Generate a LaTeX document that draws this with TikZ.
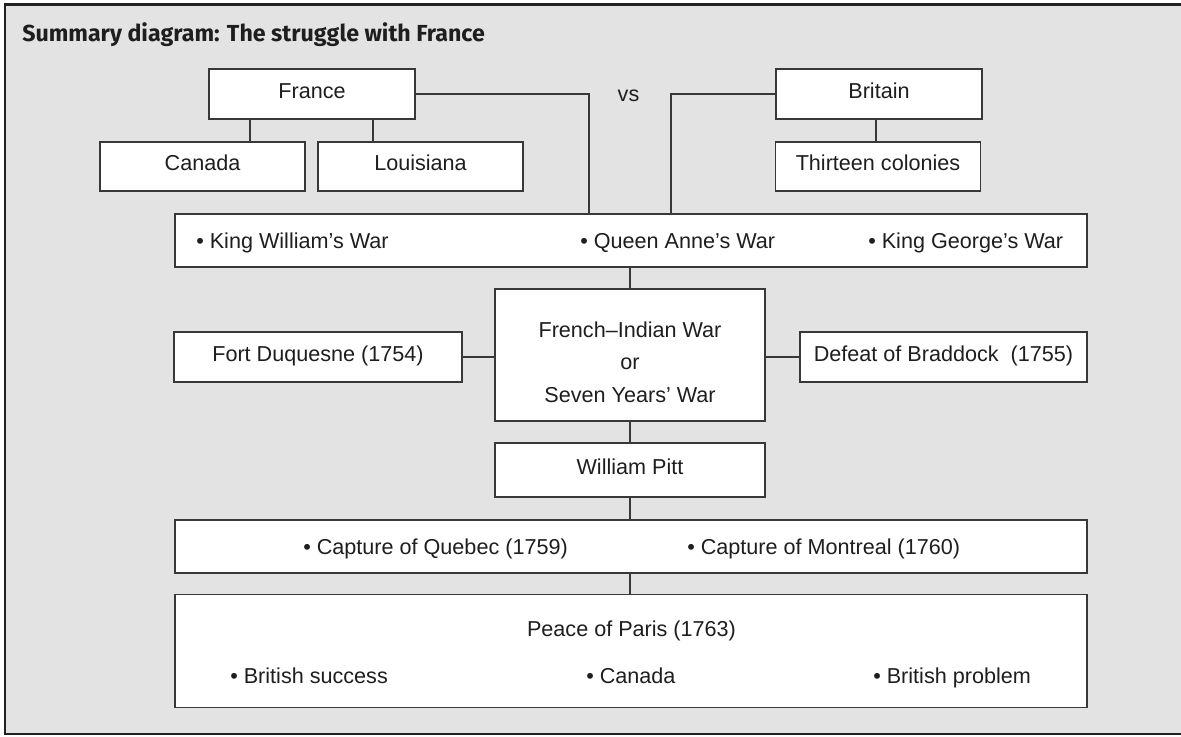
\documentclass[tikz,border=0pt]{standalone}
\usepackage{fontspec}
\setmainfont{Liberation Sans}
\newfontfamily\titlefont{Fira Sans}
\definecolor{bg}{HTML}{E3E3E3}
\definecolor{linec}{HTML}{383838}
\definecolor{framec}{HTML}{222222}
\definecolor{txt}{HTML}{1E1E1E}
\begin{document}
\begin{tikzpicture}[x=0.75pt,y=-0.75pt,
  bodyfont/.style={font=\fontsize{16.2}{19}\selectfont},
  box/.style={draw=linec, line width=1.2pt, fill=white, inner sep=0pt, text=txt,
    bodyfont, text height=0.8em, text depth=0.15em},
  item/.style={anchor=base west, inner sep=0pt, text=txt, bodyfont},
  conn/.style={draw=linec, line width=0.9pt},
  frame/.style={draw=framec, line width=2.2pt}]
\useasboundingbox (0,0) rectangle (1181,736);
\fill[bg] (4,4) rectangle (1181,734);
\draw[frame] (1182,4.5) -- (5,4.5) -- (5,734) -- (1182,734);
\node[anchor=base west, inner sep=0pt, text=txt, font=\titlefont\bfseries\fontsize{17.4}{20}\selectfont] (title) at (22,41) {Summary diagram: The struggle with France};

% top row
\node[box, minimum width=206*0.75pt, minimum height=50*0.75pt] (france) at (312,94) {France};
\node[box, minimum width=206*0.75pt, minimum height=50*0.75pt] (britain) at (879,94) {Britain};
\node[anchor=base, inner sep=0pt, text=txt, bodyfont] (vs) at (628.5,101) {vs};
\node[box, minimum width=205*0.75pt, minimum height=49*0.75pt] (canada) at (202.5,166.5) {Canada};
\node[box, minimum width=205*0.75pt, minimum height=49*0.75pt] (louis) at (420.5,166.5) {Louisiana};
\node[box, minimum width=205*0.75pt, minimum height=49*0.75pt] (thirteen) at (878,166.5) {Thirteen colonies};

% wars
\node[box, minimum width=912*0.75pt, minimum height=53*0.75pt] (wars) at (631,240.5) {};
\node[item] (kw) at (196,248) {• King William’s War};
\node[item] (qa) at (580,248) {• Queen Anne’s War};
\node[item] (kg) at (868,248) {• King George’s War};

% French-Indian war row
\node[box, minimum width=270*0.75pt, minimum height=132*0.75pt] (fiw) at (630,355) {};
\node[inner sep=0pt, align=center, text=txt, font=\fontsize{16.2}{24.4}\selectfont] (fiwtext) at (630,362) {French–Indian War\\or\\Seven Years’ War};
\node[box, minimum width=288*0.75pt, minimum height=50*0.75pt] (fort) at (318,357) {Fort Duquesne (1754)};
\node[box, minimum width=287*0.75pt, minimum height=50*0.75pt] (defeat) at (943.5,357) {Defeat of Braddock\ \ (1755)};

\node[box, minimum width=270*0.75pt, minimum height=54*0.75pt] (pitt) at (630,470) {William Pitt};

\node[box, minimum width=912*0.75pt, minimum height=53*0.75pt] (capture) at (631,546.5) {};
\node[item] (cq) at (303,554) {• Capture of Quebec (1759)};
\node[item] (cm) at (687,554) {• Capture of Montreal (1760)};

\node[box, minimum width=912*0.75pt, minimum height=113*0.75pt] (peace) at (631,651) {};
\node[anchor=base, inner sep=0pt, text=txt, bodyfont] (pp) at (631.5,636) {Peace of Paris (1763)};
\node[item] (bs) at (230,683) {• British success};
\node[item] (ca) at (586,683) {• Canada};
\node[item] (bp) at (873,683) {• British problem};

% connectors
\coordinate (c1) at (250,0);
\coordinate (c2) at (373,0);
\coordinate (c3) at (876,0);
\coordinate (j1) at (589,0);
\coordinate (j2) at (671,0);
\draw[conn] (c1 |- france.south) -- (c1 |- canada.north);
\draw[conn] (c2 |- france.south) -- (c2 |- louis.north);
\draw[conn] (c3 |- britain.south) -- (c3 |- thirteen.north);
\draw[conn] (france.east) -| (j1 |- wars.north);
\draw[conn] (britain.west) -| (j2 |- wars.north);
\draw[conn] (fiw.north |- wars.south) -- (fiw.north);
\draw[conn] (fort.east) -- (fort.east -| fiw.west);
\draw[conn] (defeat.west) -- (defeat.west -| fiw.east);
\draw[conn] (fiw.south) -- (pitt.north);
\draw[conn] (pitt.south) -- (pitt.south |- capture.north);
\draw[conn] (pitt.south |- capture.south) -- (pitt.south |- peace.north);
\end{tikzpicture}
\end{document}
